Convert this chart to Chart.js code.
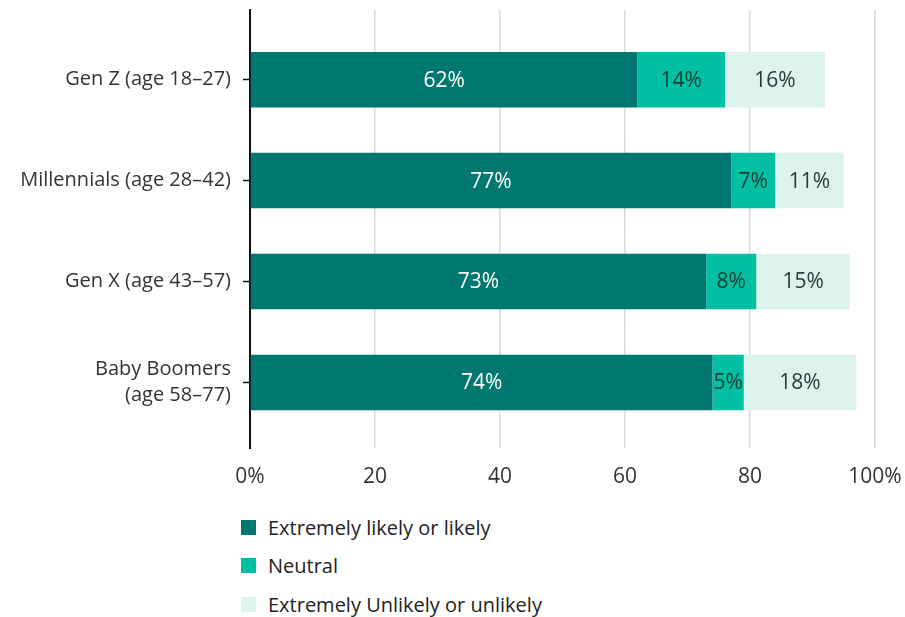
<!DOCTYPE html>
<html>
<head>
<meta charset="utf-8">
<script src="https://cdn.jsdelivr.net/npm/chart.js@4.4.0/dist/chart.umd.min.js"></script>
<style>
  body { margin: 0; background: #fff; font-family: "Open Sans", sans-serif; }
  #wrap { position: relative; width: 905px; height: 617px; }
  #chartBox { position: absolute; left: 0; top: 0; width: 905px; height: 500px; }
  #legend { position: absolute; left: 241px; top: 514px; margin: 0; padding: 0; list-style: none; }
  #legend li { display: flex; align-items: center; height: 26px; margin-bottom: 12.5px; font-size: 20px; color: #222; }
  #legend span { display: inline-block; width: 15px; height: 15px; margin-right: 12px; }
</style>
</head>
<body>
<div id="wrap">
  <div id="chartBox"><canvas id="myChart"></canvas></div>
  <ul id="legend"></ul>
</div>
<script>
const generations = [['Gen Z (age 18–27)'], ['Millennials (age 28–42)'], ['Gen X (age 43–57)'], ['Baby Boomers', '(age 58–77)']];
const likely = [62, 77, 73, 74];
const neutral = [14, 7, 8, 5];
const unlikely = [16, 11, 15, 18];
const seriesNames = ['Extremely likely or likely', 'Neutral', 'Extremely Unlikely or unlikely'];
const xTicks = [0, 20, 40, 60, 80, 100];

const colors = ['#00776f', '#00bfa2', '#ddf4ee'];
const labelColors = ['#ffffff', '#1d3b35', '#2a3a38'];
const FONT = '"Open Sans"';

function toPoints(values) {
    return values.map((v, i) => ({ x: v, y: i }));
}

// Values written inside each segment
const segmentLabels = {
    id: 'segmentLabels',
    afterDatasetsDraw(chart) {
        const ctx = chart.ctx;
        ctx.save();
        ctx.font = '21px ' + FONT;
        ctx.textAlign = 'center';
        ctx.textBaseline = 'middle';
        chart.data.datasets.forEach((ds, di) => {
            chart.getDatasetMeta(di).data.forEach((bar, i) => {
                const p = bar.getProps(['x', 'y', 'base'], true);
                ctx.fillStyle = labelColors[di];
                ctx.fillText(ds.data[i].x + '%', (p.x + p.base) / 2, p.y + 1);
            });
        });
        ctx.restore();
    }
};

const ctx = document.getElementById('myChart').getContext('2d');
const myChart = new Chart(ctx, {
    type: 'bar',
    data: {
        datasets: [
            { label: seriesNames[0], data: toPoints(likely), backgroundColor: colors[0] },
            { label: seriesNames[1], data: toPoints(neutral), backgroundColor: colors[1] },
            { label: seriesNames[2], data: toPoints(unlikely), backgroundColor: colors[2] }
        ]
    },
    options: {
        indexAxis: 'y',
        responsive: true,
        maintainAspectRatio: false,
        animation: false,
        categoryPercentage: 1,
        barPercentage: 0.55,
        layout: { padding: { top: 10, right: 30, left: 0, bottom: 0 } },
        plugins: {
            legend: { display: false },
            tooltip: { enabled: false }
        },
        scales: {
            x: {
                stacked: true,
                min: 0,
                max: 100,
                afterBuildTicks: s => { s.ticks = xTicks.map(v => ({ value: v })); },
                afterFit: s => { s.height = 52; s.paddingLeft = 0; s.paddingRight = 0; },
                border: { display: false },
                grid: {
                    drawTicks: false,
                    lineWidth: 1.5,
                    color: ctx => ctx.tick && ctx.tick.value === 0 ? 'rgba(0,0,0,0)' : '#d9d9d9'
                },
                ticks: {
                    padding: 16,
                    color: '#333',
                    font: { family: FONT, size: 21 },
                    callback: v => (v === 0 || v === 100) ? v + '%' : String(v)
                }
            },
            y: {
                type: 'linear',
                stacked: true,
                reverse: true,
                offset: false,
                min: -0.69,
                max: 3.65,
                afterBuildTicks: s => { s.ticks = generations.map((g, i) => ({ value: i })); },
                afterFit: s => { s.width = 250; s.paddingTop = 0; s.paddingBottom = 0; },
                border: { display: true, color: '#111', width: 2 },
                grid: {
                    offset: false,
                    drawOnChartArea: false,
                    drawTicks: true,
                    tickLength: 7,
                    tickWidth: 1.5,
                    tickColor: '#111'
                },
                ticks: {
                    padding: 12,
                    color: '#333',
                    font: { family: FONT, size: 20, lineHeight: 1.32 },
                    callback: v => generations[v]
                }
            }
        }
    },
    plugins: [segmentLabels]
});

// Legend list under the chart
const legend = document.getElementById('legend');
myChart.data.datasets.forEach(ds => {
    const li = document.createElement('li');
    const sw = document.createElement('span');
    sw.style.background = ds.backgroundColor;
    li.appendChild(sw);
    li.appendChild(document.createTextNode(ds.label));
    legend.appendChild(li);
});
</script>
</body>
</html>
